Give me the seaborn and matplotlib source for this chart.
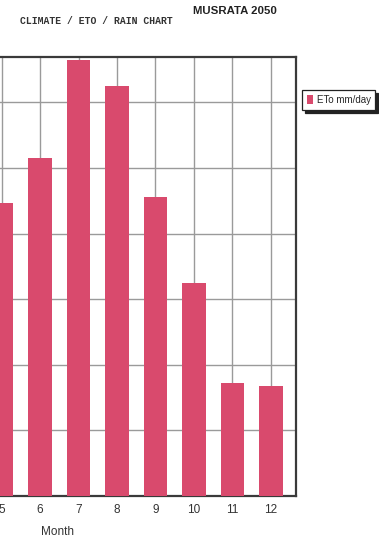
import matplotlib
matplotlib.use("Agg")
import matplotlib.pyplot as plt
import seaborn as sns
import pandas as pd

# Monthly reference evapotranspiration (mm/day), months 5-12
months = ["5", "6", "7", "8", "9", "10", "11", "12"]
eto = [4.47, 5.15, 6.64, 6.25, 4.56, 3.25, 1.72, 1.67]
series_label = "ETo mm/day"

df = pd.DataFrame({"Month": months, series_label: eto})

sns.set_theme(style="white")
plt.rcParams["font.family"] = ["Liberation Sans", "DejaVu Sans"]

W, H = 379, 540
fig = plt.figure(figsize=(W / 100, H / 100), dpi=100)
fig.patch.set_facecolor("white")

# plot area in pixel coordinates (left edge runs past the figure)
left_px, right_px, top_px, bottom_px = -23.5, 296, 57, 496
ax = fig.add_axes([left_px / W, (H - bottom_px) / H,
                   (right_px - left_px) / W, (bottom_px - top_px) / H])

bar_color = "#d94a6d"
sns.barplot(data=df, x="Month", y=series_label, color=bar_color,
            width=0.62, saturation=1, ax=ax, label=series_label,
            linewidth=0, edgecolor=bar_color, zorder=3)

ax.set_xlim(-0.65, 7.65)
ax.set_ylim(0, 6.69)
ax.set_yticks([1, 2, 3, 4, 5, 6])
ax.set_yticklabels([])
ax.tick_params(axis="y", length=0)
ax.tick_params(axis="x", length=0, pad=6, labelsize=8.5, labelcolor="#333333")

ax.grid(True, color="#9a9a9a", linewidth=1.0, zorder=0)
ax.set_axisbelow(True)
for side, sp in ax.spines.items():
    sp.set_visible(True)
    sp.set_color("#3a3a3a")
    sp.set_linewidth(1.6)

ax.set_xlabel("Month", fontsize=8.5, color="#333333")
ax.xaxis.set_label_coords((58 - left_px) / (right_px - left_px), -0.068)
ax.set_ylabel("")

leg = ax.legend(loc="upper left", bbox_to_anchor=(302 / W, 1 - 90 / H),
                bbox_transform=fig.transFigure, frameon=True, fancybox=False,
                shadow={"color": "#222222", "alpha": 1.0}, edgecolor="#222222",
                handlelength=0.6, handleheight=1.1,
                handletextpad=0.4, borderpad=0.5, borderaxespad=0,
                prop={"size": 7})
leg.get_frame().set_linewidth(0.9)

fig.text(20 / W, 1 - 21 / H, "CLIMATE / ETO / RAIN CHART",
         family=["Liberation Mono", "DejaVu Sans Mono"], fontweight="bold",
         fontsize=7, ha="left", va="center", color="#333333")
fig.text(193 / W, 1 - 11 / H, "MUSRATA 2050",
         fontweight="bold", fontsize=8.2, ha="left", va="center", color="#222222")

fig.savefig("out.png", dpi=100, facecolor="white")
